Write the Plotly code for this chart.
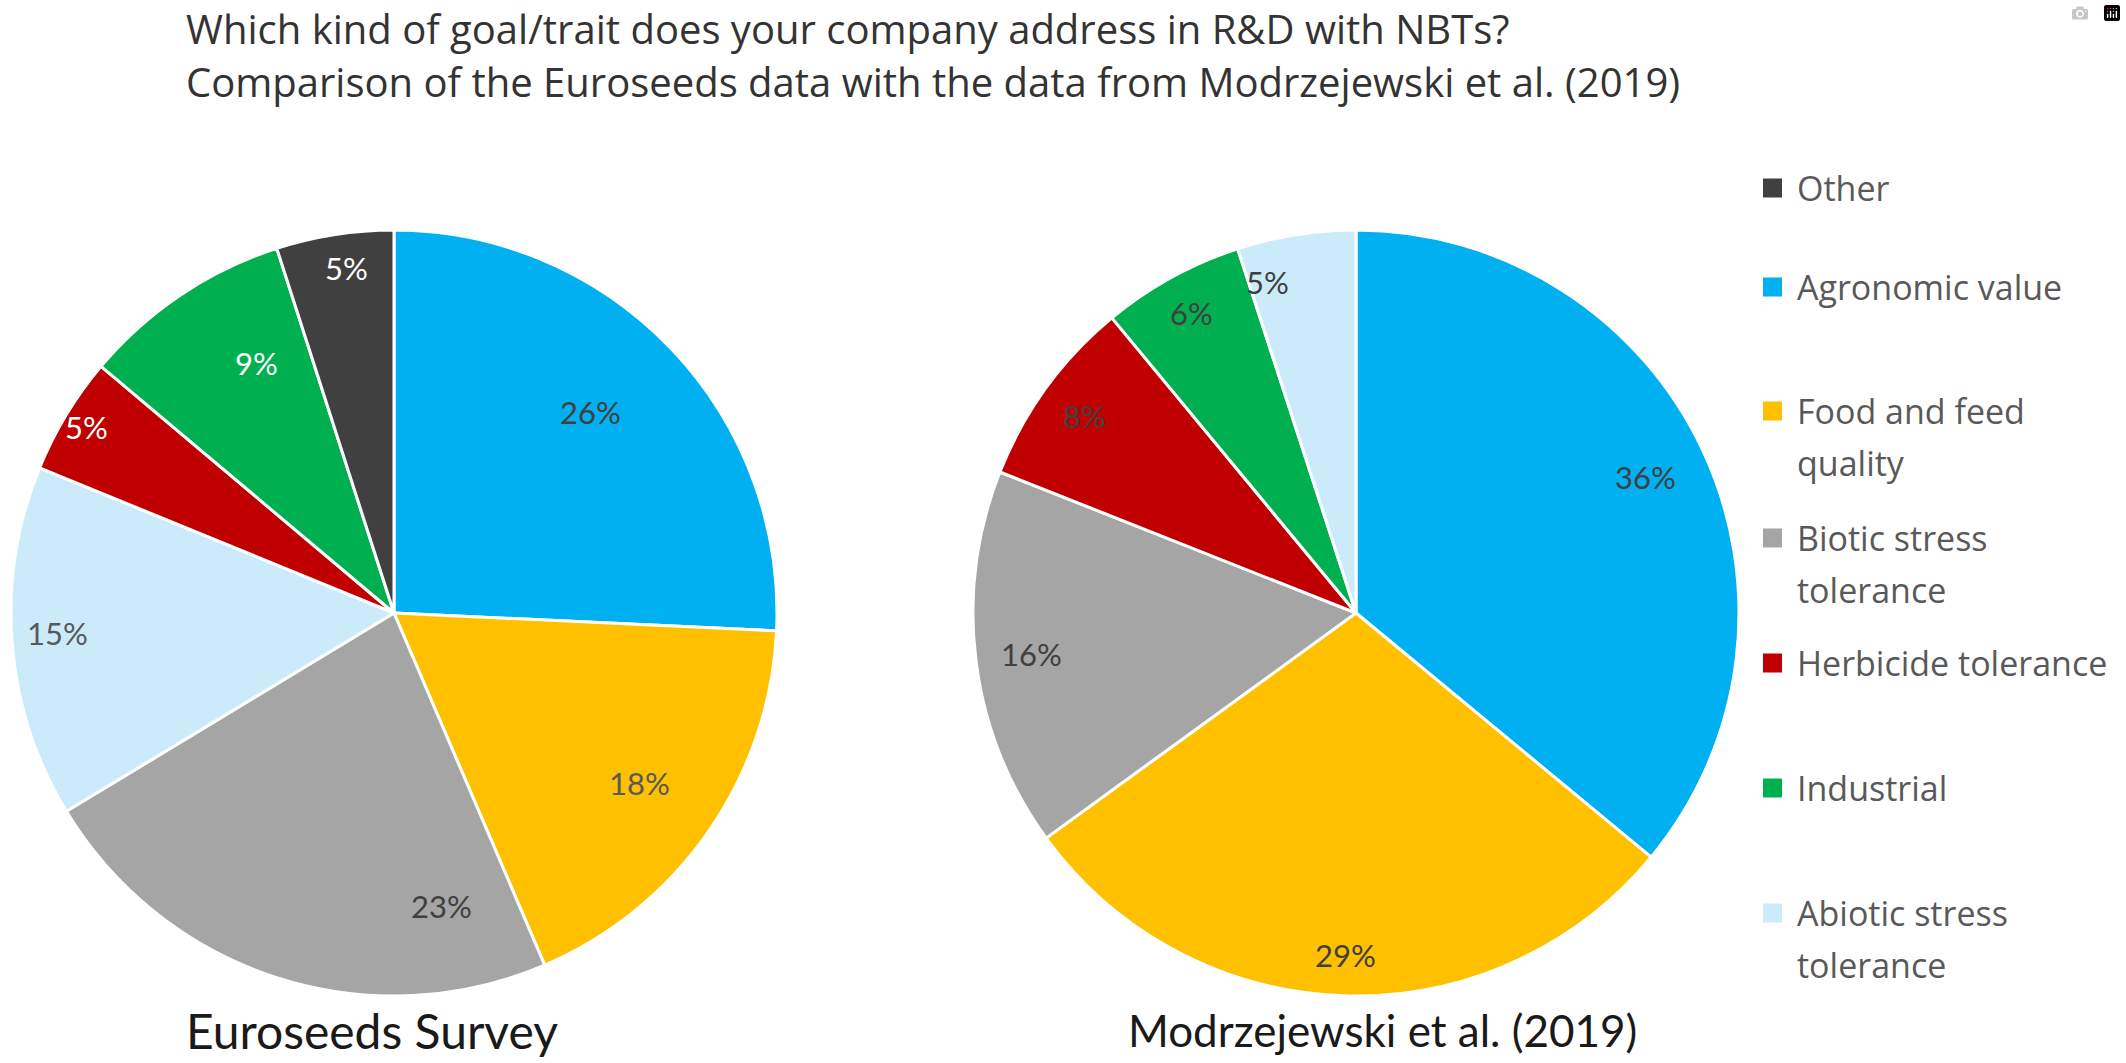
import math
import plotly.graph_objects as go

# ---------------- data ----------------
euro_labels = ["Agronomic value", "Food and feed quality", "Biotic stress tolerance",
               "Abiotic stress tolerance", "Herbicide tolerance", "Industrial", "Other"]
euro_values = [26, 18, 23, 15, 5, 9, 5]

modr_labels = ["Agronomic value", "Food and feed quality", "Biotic stress tolerance",
               "Herbicide tolerance", "Industrial", "Abiotic stress tolerance"]
modr_values = [36, 29, 16, 8, 6, 5]

legend_order = ["Other", "Agronomic value", "Food and feed quality", "Biotic stress tolerance",
                "Herbicide tolerance", "Industrial", "Abiotic stress tolerance"]
legend_text = ["Other", "Agronomic value", "Food and feed<br>quality", "Biotic stress<br>tolerance",
               "Herbicide tolerance", "Industrial", "Abiotic stress<br>tolerance"]

title_lines = ["Which kind of goal/trait does your company address in R&D with NBTs?",
               "Comparison of the Euroseeds data with the data from Modrzejewski et al. (2019)"]
pie_titles = ["Euroseeds Survey", "Modrzejewski et al. (2019)"]

# ---------------- style ----------------
colors = {
    "Agronomic value": "#00B0F0",
    "Food and feed quality": "#FFC000",
    "Biotic stress tolerance": "#A5A5A5",
    "Abiotic stress tolerance": "#CCEBFA",
    "Herbicide tolerance": "#C00000",
    "Industrial": "#00B050",
    "Other": "#404040",
}
euro_text_colors = ["#404040", "#595959", "#404040", "#595959", "#FFFFFF", "#FFFFFF", "#FFFFFF"]
modr_text_colors = ["#404040"] * len(modr_labels)
# label placement ("best fit"-like): radial fraction and angular nudge (deg) per slice
euro_label_r = [0.735, 0.78, 0.775, 0.88, 0.94, 0.745, 0.91]
euro_label_da = [-2, 0, -27, 1, 0, 5, 1]
modr_label_r = [0.836, 0.893, 0.855, 0.877, 0.893, 0.896]
modr_label_da = [0, 0, 0, 0, 0, -6]

W, H = 2126, 1063
FONT = "Lato"
FONT2 = "Open Sans"


def xp(px):
    return px / W


def yp(py):
    return 1 - py / H


R = 383
CY = 613
left_cx, right_cx = 394, 1356

fig = go.Figure()
annotations = []
for labels, values, tcolors, rf, da, cx in [
        (euro_labels, euro_values, euro_text_colors, euro_label_r, euro_label_da, left_cx),
        (modr_labels, modr_values, modr_text_colors, modr_label_r, modr_label_da, right_cx)]:
    fig.add_trace(go.Pie(
        labels=labels, values=values, sort=False, direction="clockwise", rotation=0,
        marker=dict(colors=[colors[l] for l in labels], line=dict(color="white", width=3)),
        textinfo="none",
        domain=dict(x=[xp(cx - R), xp(cx + R)], y=[yp(CY + R), yp(CY - R)]),
        showlegend=False, hoverinfo="label+percent",
    ))
    total = float(sum(values))
    cum = 0.0
    for v, c, f, d in zip(values, tcolors, rf, da):
        mid = (cum + v / 2.0) / total * 360.0 + d
        cum += v
        th = math.radians(mid)
        annotations.append(dict(
            text=f"{v}%", x=xp(cx + f * R * math.sin(th)), y=yp(CY - f * R * math.cos(th)),
            xref="paper", yref="paper", xanchor="center", yanchor="middle", showarrow=False,
            font=dict(family=FONT, size=31, color=c)))

# title lines
for line, y in zip(title_lines, [28, 82]):
    annotations.append(dict(text=line, x=xp(184), y=yp(y), xref="paper", yref="paper",
                            xanchor="left", yanchor="middle", showarrow=False,
                            font=dict(family=FONT2, size=40, color="#333333")))
# pie captions
annotations.append(dict(text=pie_titles[0], x=xp(184), y=yp(1030), xref="paper", yref="paper",
                        xanchor="left", yanchor="middle", showarrow=False,
                        font=dict(family=FONT, size=48, color="#1a1a1a")))
annotations.append(dict(text=pie_titles[1], x=xp(1382), y=yp(1030), xref="paper", yref="paper",
                        xanchor="center", yanchor="middle", showarrow=False,
                        font=dict(family=FONT, size=44, color="#1a1a1a")))

# legend
legend_rows = [188, 287, 411, 538, 663, 788, 913]
line_pitch = 52
shapes = []
for name, txt, y in zip(legend_order, legend_text, legend_rows):
    shapes.append(dict(type="rect", xref="paper", yref="paper",
                       x0=xp(1763), x1=xp(1782), y0=yp(y + 9.5), y1=yp(y - 9.5),
                       fillcolor=colors[name], line=dict(width=0)))
    for k, part in enumerate(txt.split("<br>")):
        annotations.append(dict(text=part, x=xp(1795), y=yp(y + k * line_pitch),
                                xref="paper", yref="paper", xanchor="left", yanchor="middle",
                                showarrow=False,
                                font=dict(family=FONT2, size=34, color="#595959")))

fig.update_layout(
    width=W, height=H, margin=dict(l=0, r=0, t=0, b=0),
    paper_bgcolor="white", plot_bgcolor="white",
    annotations=annotations, shapes=shapes,
    font=dict(family=FONT),
)

fig.write_html("out.html", post_script="document.body.style.margin='0';")
